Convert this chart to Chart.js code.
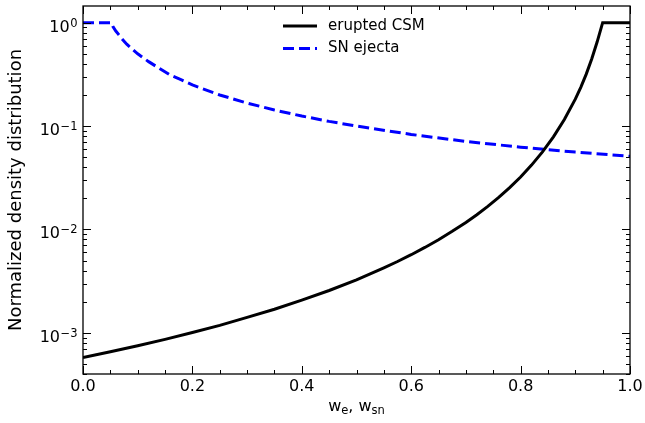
<!DOCTYPE html>
<html>
<head>
<meta charset="utf-8">
<script src="https://cdn.jsdelivr.net/npm/chart.js@4/dist/chart.umd.min.js"></script>
<style>
  html, body { margin: 0; padding: 0; background: #fff; }
  #wrap { width: 645px; height: 423px; }
</style>
</head>
<body>
<div id="wrap"><canvas id="grafico"></canvas></div>
<script>
// valores
const csmW = [0, 0.05, 0.1, 0.15, 0.2, 0.25, 0.3, 0.35, 0.4, 0.45, 0.5, 0.525, 0.55, 0.575, 0.6, 0.625, 0.65, 0.675, 0.7, 0.72, 0.74, 0.76, 0.78, 0.8, 0.82, 0.84, 0.86, 0.88, 0.9, 0.91, 0.92, 0.93, 0.94, 0.95, 1.0];
const csmDensidad = [5.77e-4, 6.56e-4, 7.5e-4, 8.65e-4, 1.007e-3, 1.18e-3, 1.41e-3, 1.69e-3, 2.07e-3, 2.57e-3, 3.26e-3, 3.71e-3, 4.25e-3, 4.9e-3, 5.7e-3, 6.7e-3, 7.96e-3, 9.59e-3, 0.0117, 0.0139, 0.0167, 0.0204, 0.0254, 0.0322, 0.0419, 0.0563, 0.0787, 0.1156, 0.182, 0.237, 0.318, 0.445, 0.653, 1.0, 1.0];

const ejectaW = [0, 0.052, 0.055, 0.06, 0.065, 0.07, 0.08, 0.09, 0.1, 0.12, 0.14, 0.16, 0.18, 0.2, 0.25, 0.3, 0.35, 0.4, 0.45, 0.5, 0.6, 0.7, 0.8, 0.9, 1.0];
const ejectaDensidad = [1.0, 1.0, 0.91, 0.83, 0.77, 0.71, 0.62, 0.555, 0.5, 0.42, 0.36, 0.31, 0.28, 0.25, 0.2, 0.167, 0.143, 0.125, 0.111, 0.1, 0.083, 0.071, 0.0625, 0.056, 0.051];

const etiquetas = ["erupted CSM", "SN ejecta"];
const tituloY = "Normalized density distribution";
// titulo x: [texto, es subindice]
const tituloX = [["w", false], ["e", true], [", w", false], ["sn", true]];

const FUENTE = "'DejaVu Sans', sans-serif";

function aPuntos(xs, ys) {
  return xs.map((x, i) => ({ x: x, y: ys[i] }));
}

function esEntero(v) {
  return Math.abs(v - Math.round(v)) < 1e-6;
}

// marcas hacia adentro, marco, etiquetas 10^n, titulo x y leyenda
const marcasPlugin = {
  id: "marcas",
  afterDraw(chart) {
    const ctx = chart.ctx;
    const a = chart.chartArea;
    const sx = chart.scales.x;
    const sy = chart.scales.y;
    ctx.save();
    ctx.strokeStyle = "#000";
    ctx.lineWidth = 1;

    sx.ticks.forEach((t) => {
      const px = Math.round(sx.getPixelForValue(t.value)) + 0.5;
      const len = esEntero(t.value / 0.2) ? 8 : 4;
      ctx.beginPath();
      ctx.moveTo(px, a.bottom);
      ctx.lineTo(px, a.bottom - len);
      ctx.moveTo(px, a.top);
      ctx.lineTo(px, a.top + len);
      ctx.stroke();
    });

    ctx.fillStyle = "#000";
    sy.ticks.forEach((t) => {
      const e = Math.floor(Math.log10(t.value) + 1e-9);
      const m = t.value / Math.pow(10, e);
      if (!esEntero(m)) return;
      const py = Math.round(sy.getPixelForValue(t.value)) + 0.5;
      const mayor = esEntero(Math.log10(t.value));
      const len = mayor ? 8 : 4;
      ctx.beginPath();
      ctx.moveTo(a.left, py);
      ctx.lineTo(a.left + len, py);
      ctx.moveTo(a.right, py);
      ctx.lineTo(a.right - len, py);
      ctx.stroke();
      if (mayor) {
        const exp = String(Math.round(Math.log10(t.value))).replace("-", "\u2212");
        ctx.textBaseline = "alphabetic";
        ctx.textAlign = "right";
        ctx.font = "11.5px " + FUENTE;
        const wExp = ctx.measureText(exp).width;
        const xFin = a.left - 5.5;
        ctx.fillText(exp, xFin, py + 3.5);
        ctx.font = "16px " + FUENTE;
        ctx.fillText("10", xFin - wExp - 0.5, py + 8.5);
      }
    });

    ctx.lineWidth = 1.3;
    ctx.strokeRect(a.left, a.top, a.right - a.left, a.bottom - a.top);

    // titulo x con subindices
    ctx.textAlign = "left";
    ctx.textBaseline = "alphabetic";
    let total = 0;
    tituloX.forEach(([txt, sub]) => {
      ctx.font = (sub ? "11.5px " : "16px ") + FUENTE;
      total += ctx.measureText(txt).width;
    });
    let xPos = (a.left + a.right) / 2 - total / 2;
    tituloX.forEach(([txt, sub]) => {
      ctx.font = (sub ? "11.5px " : "16px ") + FUENTE;
      ctx.fillText(txt, xPos, sub ? 414 : 410.5);
      xPos += ctx.measureText(txt).width;
    });

    // leyenda
    ctx.font = "15px " + FUENTE;
    ctx.textBaseline = "middle";
    chart.data.datasets.forEach((ds, i) => {
      const y = 26 + i * 22.5;
      ctx.beginPath();
      ctx.strokeStyle = ds.borderColor;
      ctx.lineWidth = ds.borderWidth;
      ctx.setLineDash(ds.borderDash || []);
      ctx.moveTo(283, y);
      ctx.lineTo(317, y);
      ctx.stroke();
      ctx.setLineDash([]);
      ctx.fillText(ds.label, 328, y);
    });
    ctx.restore();
  },
};

new Chart(document.getElementById("grafico"), {
  type: "line",
  data: {
    datasets: [
      {
        label: etiquetas[0],
        data: aPuntos(csmW, csmDensidad),
        borderColor: "#000000",
        borderWidth: 3,
        pointRadius: 0,
        fill: false,
      },
      {
        label: etiquetas[1],
        data: aPuntos(ejectaW, ejectaDensidad),
        borderColor: "#0000ff",
        borderWidth: 3,
        borderDash: [11, 5],
        pointRadius: 0,
        fill: false,
      },
    ],
  },
  options: {
    responsive: true,
    maintainAspectRatio: false,
    animation: false,
    layout: { padding: { top: 6, right: 15, bottom: 0, left: 0 } },
    plugins: { legend: { display: false }, tooltip: { enabled: false } },
    scales: {
      x: {
        type: "linear",
        min: 0,
        max: 1,
        grid: { display: false, drawTicks: false },
        border: { display: false },
        ticks: {
          stepSize: 0.05,
          autoSkip: false,
          maxRotation: 0,
          padding: 3,
          color: "#000",
          font: { family: FUENTE, size: 16 },
          callback: (v) => (esEntero(v / 0.2) ? Number(v).toFixed(1) : ""),
        },
        afterFit: (s) => {
          s.height = 49;
          s.paddingLeft = 0;
          s.paddingRight = 0;
        },
      },
      y: {
        type: "logarithmic",
        min: 4e-4,
        max: 1.45,
        grid: { display: false, drawTicks: false },
        border: { display: false },
        ticks: {
          autoSkip: false,
          padding: 6,
          color: "#000",
          callback: () => "",
        },
        title: {
          display: true,
          text: tituloY,
          color: "#000",
          font: { family: FUENTE, size: 18 },
          padding: { top: 6, bottom: 0 },
        },
        afterFit: (s) => {
          s.width = 83;
          s.paddingTop = 0;
          s.paddingBottom = 0;
        },
      },
    },
  },
  plugins: [marcasPlugin],
});
</script>
</body>
</html>
